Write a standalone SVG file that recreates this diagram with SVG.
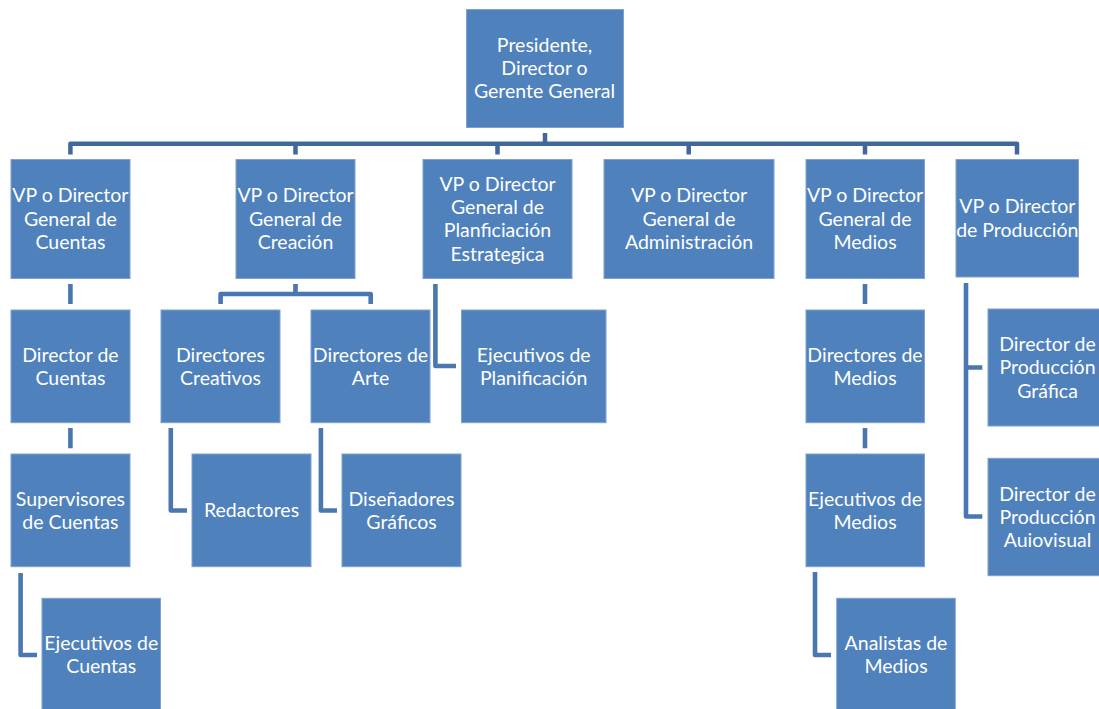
<svg xmlns="http://www.w3.org/2000/svg" width="1099" height="709" viewBox="0 0 1099 709">
<style>
.box{fill:#4F81BD;stroke:#7fa2d2;stroke-width:1}
.t{font-family:Lato,"Open Sans","Liberation Sans",sans-serif;font-size:19.5px;fill:#ffffff;text-anchor:middle}
.bus{fill:none;stroke:#41689c;stroke-width:4.5;stroke-linejoin:round}
.ln{fill:none;stroke:#4a77b0;stroke-width:4.6;stroke-linejoin:round}
</style>
<rect width="1099" height="709" fill="#ffffff"/>
<g id="connectors">
<path class="bus" d="M70.4 154.5V143.7H1017V154.5"/>
<path class="bus" d="M545 133V143.7M295.5 143.7V154.5M497.5 143.7V154.5M688.7 143.7V154.5M865 143.7V154.5"/>
<path class="ln" d="M70.4 284V304M70.4 428V448.3M865 284V304M865 428V448.3"/>
<path class="ln" d="M295.5 284V294M220.6 304V294H370.7V304"/>
<path class="ln" d="M435.4 284V366H456"/>
<path class="ln" d="M20.6 573V655H37"/>
<path class="ln" d="M170.8 428V510.5H187"/>
<path class="ln" d="M320.9 428V510.5H337"/>
<path class="ln" d="M815 572V655H831"/>
<path class="ln" d="M966 283V367.5H982.3M966 367.5V516.5H982.3"/>
</g>
<g id="n-presidente"><rect class="box" x="466.5" y="9.5" width="157" height="118"/><text class="t" x="544.5"><tspan x="544.5" y="51.7">Presidente,</tspan><tspan x="544.5" y="75">Director o</tspan><tspan x="544.5" y="98.3">Gerente General</tspan></text></g>
<g id="n-vp-cuentas"><rect class="box" x="11" y="159.5" width="119" height="119"/><text class="t"><tspan x="70.4" y="202.3">VP o Director</tspan><tspan x="70.4" y="225.7">General de</tspan><tspan x="70.4" y="249">Cuentas</tspan></text></g>
<g id="n-vp-creacion"><rect class="box" x="236" y="159.5" width="119" height="119"/><text class="t"><tspan x="295.5" y="202.3">VP o Director</tspan><tspan x="295.5" y="225.7">General de</tspan><tspan x="295.5" y="249">Creación</tspan></text></g>
<g id="n-vp-planificacion"><rect class="box" x="423" y="159.5" width="149" height="119"/><text class="t"><tspan x="497.5" y="190.8">VP o Director</tspan><tspan x="497.5" y="214.1">General de</tspan><tspan x="497.5" y="237.4">Planficiación</tspan><tspan x="497.5" y="260.8">Estrategica</tspan></text></g>
<g id="n-vp-administracion"><rect class="box" x="604" y="159.5" width="170" height="119"/><text class="t"><tspan x="689" y="202.3">VP o Director</tspan><tspan x="689" y="225.7">General de</tspan><tspan x="689" y="249">Administración</tspan></text></g>
<g id="n-vp-medios"><rect class="box" x="806" y="159.5" width="118.5" height="119"/><text class="t"><tspan x="865" y="202.3">VP o Director</tspan><tspan x="865" y="225.7">General de</tspan><tspan x="865" y="249">Medios</tspan></text></g>
<g id="n-vp-produccion"><rect class="box" x="956" y="159.5" width="122.5" height="117.5"/><text class="t"><tspan x="1017.3" y="213.3">VP o Director</tspan><tspan x="1017.3" y="236.7">de Producción</tspan></text></g>
<g id="n-director-cuentas"><rect class="box" x="11" y="310" width="119" height="112.7"/><text class="t"><tspan x="70.4" y="361.7">Director de</tspan><tspan x="70.4" y="385">Cuentas</tspan></text></g>
<g id="n-directores-creativos"><rect class="box" x="161" y="310" width="119" height="112.7"/><text class="t"><tspan x="220.5" y="361.7">Directores</tspan><tspan x="220.5" y="385">Creativos</tspan></text></g>
<g id="n-directores-arte"><rect class="box" x="311" y="310" width="119" height="112.7"/><text class="t"><tspan x="370.5" y="361.7">Directores de</tspan><tspan x="370.5" y="385">Arte</tspan></text></g>
<g id="n-ejecutivos-planificacion"><rect class="box" x="461.5" y="310" width="144.5" height="112.7"/><text class="t"><tspan x="533.7" y="361.7">Ejecutivos de</tspan><tspan x="533.7" y="385">Planificación</tspan></text></g>
<g id="n-directores-medios"><rect class="box" x="806" y="310" width="118.5" height="112.7"/><text class="t"><tspan x="865" y="361.7">Directores de</tspan><tspan x="865" y="385">Medios</tspan></text></g>
<g id="n-produccion-grafica"><rect class="box" x="988" y="309" width="119" height="117"/><text class="t"><tspan x="1047.5" y="351">Director de</tspan><tspan x="1047.5" y="374.3">Producción</tspan><tspan x="1047.5" y="397.6">Gráfica</tspan></text></g>
<g id="n-supervisores-cuentas"><rect class="box" x="11" y="454" width="119" height="112.7"/><text class="t"><tspan x="70.4" y="505.7">Supervisores</tspan><tspan x="70.4" y="529">de Cuentas</tspan></text></g>
<g id="n-redactores"><rect class="box" x="192" y="454" width="119" height="112.7"/><text class="t" x="251.5" y="517.3">Redactores</text></g>
<g id="n-disenadores"><rect class="box" x="342" y="454" width="119" height="112.7"/><text class="t"><tspan x="401.5" y="505.7">Diseñadores</tspan><tspan x="401.5" y="529">Gráficos</tspan></text></g>
<g id="n-ejecutivos-medios"><rect class="box" x="806" y="454" width="118.5" height="112.7"/><text class="t"><tspan x="865" y="505.7">Ejecutivos de</tspan><tspan x="865" y="529">Medios</tspan></text></g>
<g id="n-produccion-audiovisual"><rect class="box" x="988" y="458.3" width="119" height="117.4"/><text class="t"><tspan x="1047.5" y="500.5">Director de</tspan><tspan x="1047.5" y="523.8">Producción</tspan><tspan x="1047.5" y="547.1">Auiovisual</tspan></text></g>
<g id="n-ejecutivos-cuentas"><rect class="box" x="42" y="598.3" width="118.5" height="112.7"/><text class="t"><tspan x="101.3" y="650">Ejecutivos de</tspan><tspan x="101.3" y="673.3">Cuentas</tspan></text></g>
<g id="n-analistas-medios"><rect class="box" x="836.7" y="598.3" width="118.6" height="112.7"/><text class="t"><tspan x="896" y="650">Analistas de</tspan><tspan x="896" y="673.3">Medios</tspan></text></g>
</svg>
